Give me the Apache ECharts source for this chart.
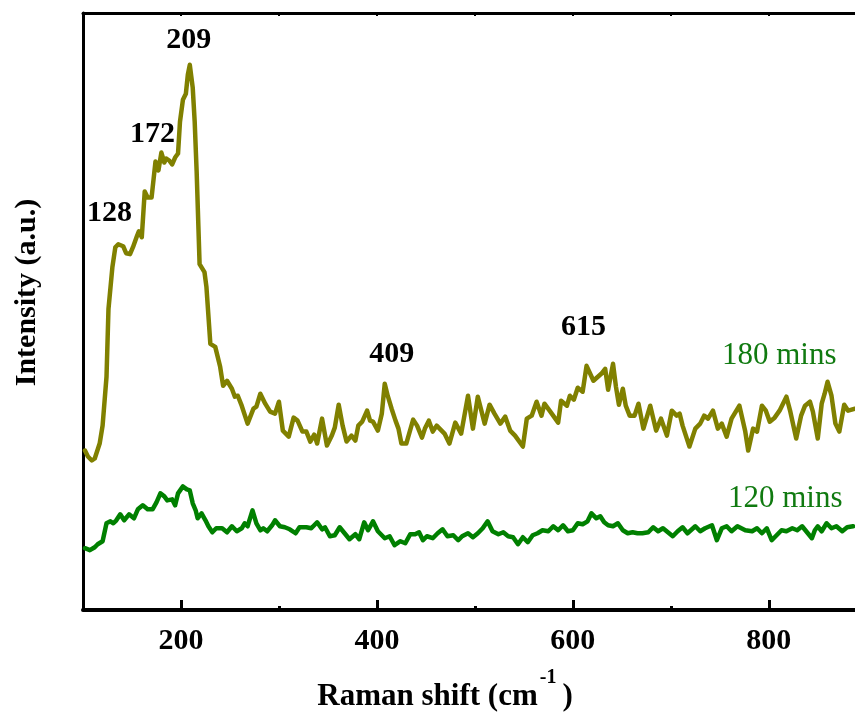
<!DOCTYPE html>
<html>
<head>
<meta charset="utf-8">
<script src="https://cdn.jsdelivr.net/npm/echarts@6/dist/echarts.min.js"></script>
<style>
  html, body { margin: 0; padding: 0; background: #fff; }
  #chart { width: 855px; height: 717px; }
</style>
</head>
<body>
<div id="chart"></div>
<script>
// Raman spectra of the sample after 180 min and 120 min (intensity in arbitrary units)
const shift180 = [102,105,109,112,117,120,124,126,130,133,136,141,144,148,151,155,157,160,163,166,170,174,177,180,183,185,188,191,194,197,199,202,205,207,209,212,214,216,219,224,226,230,235,237,240,243,247,252,255,258,262,264,268,270,274,277,281,286,291,296,300,304,310,315,319,324,328,332,336,339,344,349,354,357,361,365,369,374,378,381,385,390,393,396,401,405,408,411,415,419,422,425,430,437,441,446,449,453,457,461,466,469,474,480,486,493,498,503,510,515,520,526,531,536,541,549,553,558,563,568,571,577,585,588,594,597,601,605,610,614,621,629,633,636,641,644,647,651,654,658,663,667,672,679,685,690,696,701,706,709,712,719,725,730,734,738,743,748,752,757,762,770,776,779,784,788,793,797,801,806,811,818,822,828,833,837,842,845,850,854,857,860,864,868,872,877,881,888];
const int180 = [160,154,150,152,167,185,234,302,344,364,367,365,358,357,364,375,380,374,420,414,414,450,441,459,449,453,451,447,454,458,490,512,518,537,547,524,490,440,347,339,324,267,264,262,244,225,230,222,214,215,205,204,187,187,202,204,217,207,199,197,209,180,174,193,190,179,179,169,176,167,192,165,175,183,206,185,169,175,170,185,189,200,190,189,180,197,227,215,202,190,182,167,167,191,185,173,182,190,179,185,180,177,167,188,177,215,182,214,187,206,197,187,194,180,175,164,192,195,209,195,207,199,188,210,205,215,211,223,219,245,230,237,242,221,247,224,206,222,205,195,195,207,182,205,180,192,175,200,195,197,185,164,182,187,195,192,200,182,187,174,192,205,179,160,182,179,205,200,189,193,200,214,199,172,195,205,209,199,172,207,217,229,215,187,179,206,200,202];

const shift120 = [102,107,112,115,120,124,128,131,134,138,142,147,152,156,161,166,171,175,179,183,186,191,194,197,202,206,209,212,215,217,221,225,228,232,236,242,247,252,257,262,265,268,273,277,281,284,288,293,296,301,306,311,317,321,328,333,339,344,347,352,357,362,367,372,378,382,387,391,396,401,408,413,418,424,429,434,439,443,447,451,457,462,467,472,478,483,487,493,498,503,508,513,518,524,529,534,539,544,549,554,559,564,569,575,580,585,590,595,600,605,610,615,619,624,628,632,636,641,646,651,656,661,666,671,677,682,687,692,697,702,707,712,717,725,730,735,742,747,752,757,762,768,776,783,788,793,798,803,808,813,818,824,829,834,839,844,847,850,854,859,864,869,875,880,886];
const int120 = [62,60,63,66,69,87,89,87,90,96,90,96,92,101,105,101,101,108,117,114,110,111,105,117,124,121,120,107,100,92,97,90,84,78,82,82,78,84,79,82,87,84,100,87,80,82,79,85,90,84,83,81,77,83,83,82,88,81,83,74,75,83,77,71,76,71,88,80,89,79,72,74,65,69,67,76,76,78,70,74,72,77,81,74,75,70,74,77,73,77,82,89,79,76,78,74,73,66,73,68,75,77,80,79,84,80,85,79,80,87,86,89,97,92,94,88,85,84,87,80,77,78,77,77,78,83,79,82,78,74,79,83,77,84,79,82,85,70,82,84,79,84,80,79,82,77,82,70,75,80,79,82,80,84,78,72,80,84,79,87,82,84,79,83,84];

// Assigned band positions (cm-1) labelled on the 180 min spectrum
const peakShifts = [128, 172, 209, 409, 615];

// Bottom-axis tick values
const majorTicks = [200, 400, 600, 800];
const minorTicks = [300, 500, 700];
const topTicks = [200, 300, 400, 500, 600, 700, 800];

const X_MIN = 100, X_MAX = 888;

function pairs(xs, ys) { return xs.map((x, i) => [x, ys[i]]); }

// Height of the 180 min spectrum around a band, used to anchor its label
function localMax(xs, ys, center, half) {
  let m = -Infinity;
  xs.forEach((x, i) => { if (Math.abs(x - center) <= half && ys[i] > m) m = ys[i]; });
  return m;
}

const peakLabelOffsets = [[-1, -34], [-1, -27], [-1, -25], [6, -30], [-4, -39]];

const serif = '"Liberation Serif", "Times New Roman", serif';

const chart = echarts.init(document.getElementById('chart'), null, { renderer: 'canvas' });

const option = {
  animation: false,
  backgroundColor: '#ffffff',
  grid: { left: 83, right: 0, top: 13, bottom: 105, containLabel: false },
  xAxis: [
    {
      type: 'value', min: X_MIN, max: X_MAX, position: 'bottom',
      axisLine: { show: true, lineStyle: { color: '#000', width: 4 } },
      axisTick: { show: true, inside: true, length: 10, customValues: majorTicks, lineStyle: { color: '#000', width: 3 } },
      axisLabel: {
        show: true, customValues: majorTicks, margin: 16,
        fontFamily: serif, fontWeight: 'bold', fontSize: 30, color: '#000'
      },
      splitLine: { show: false },
      name: '{t|Raman shift (cm}{s|-1}{t|)}',
      nameLocation: 'middle', nameGap: 58,
      nameTextStyle: {
        padding: [0, 48, 0, 0],
        rich: {
          t: { fontFamily: serif, fontWeight: 'bold', fontSize: 31, color: '#000', lineHeight: 44, verticalAlign: 'bottom' },
          s: { fontFamily: serif, fontWeight: 'bold', fontSize: 20, color: '#000', lineHeight: 44, verticalAlign: 'top', padding: [0, 6, 0, 2] }
        }
      }
    },
    {
      type: 'value', min: X_MIN, max: X_MAX, position: 'bottom',
      axisLine: { show: false },
      axisTick: { show: true, inside: true, length: 4, customValues: minorTicks, lineStyle: { color: '#000', width: 3 } },
      axisLabel: { show: false },
      splitLine: { show: false }
    },
    {
      type: 'value', min: X_MIN, max: X_MAX, position: 'top',
      axisLine: { show: true, lineStyle: { color: '#000', width: 3 } },
      axisTick: { show: true, inside: true, length: 3, customValues: topTicks, lineStyle: { color: '#000', width: 2 } },
      axisLabel: { show: false },
      splitLine: { show: false }
    }
  ],
  yAxis: {
    type: 'value', min: 0, max: 599,
    axisLine: { show: true, lineStyle: { color: '#000', width: 3 } },
    axisTick: { show: false },
    axisLabel: { show: false },
    splitLine: { show: false },
    name: 'Intensity (a.u.)',
    nameLocation: 'middle', nameGap: 41,
    nameTextStyle: { fontFamily: serif, fontWeight: 'bold', fontSize: 30, color: '#000', padding: [0, 0, 0, 38] }
  },
  series: [
    {
      name: '180 mins', type: 'line', xAxisIndex: 0,
      data: pairs(shift180, int180),
      showSymbol: false, smooth: false,
      lineStyle: { color: '#808000', width: 4.5, join: 'round', cap: 'round' },
      itemStyle: { color: '#808000' }
    },
    {
      name: '120 mins', type: 'line', xAxisIndex: 0,
      data: pairs(shift120, int120),
      showSymbol: false, smooth: false,
      lineStyle: { color: '#008000', width: 4.5, join: 'round', cap: 'round' },
      itemStyle: { color: '#008000' }
    },
    {
      name: 'bands', type: 'scatter', xAxisIndex: 0,
      symbolSize: 0,
      silent: true,
      itemStyle: { opacity: 1 },
      data: peakShifts.map((p, i) => ({
        value: [p, localMax(shift180, int180, p, 6)],
        label: { offset: peakLabelOffsets[i] }
      })),
      label: {
        show: true, position: 'inside', opacity: 1,
        formatter: (d) => String(d.value[0]),
        fontFamily: serif, fontWeight: 'bold', fontSize: 30, color: '#000',
        align: 'center', verticalAlign: 'middle'
      }
    }
  ],
  graphic: [
    {
      type: 'text', left: 722, top: 340,
      style: { text: '180 mins', fontFamily: serif, fontSize: 31, fill: '#107a10' }
    },
    {
      type: 'text', left: 728, top: 483,
      style: { text: '120 mins', fontFamily: serif, fontSize: 31, fill: '#107a10' }
    }
  ]
};

chart.setOption(option);
</script>
</body>
</html>
